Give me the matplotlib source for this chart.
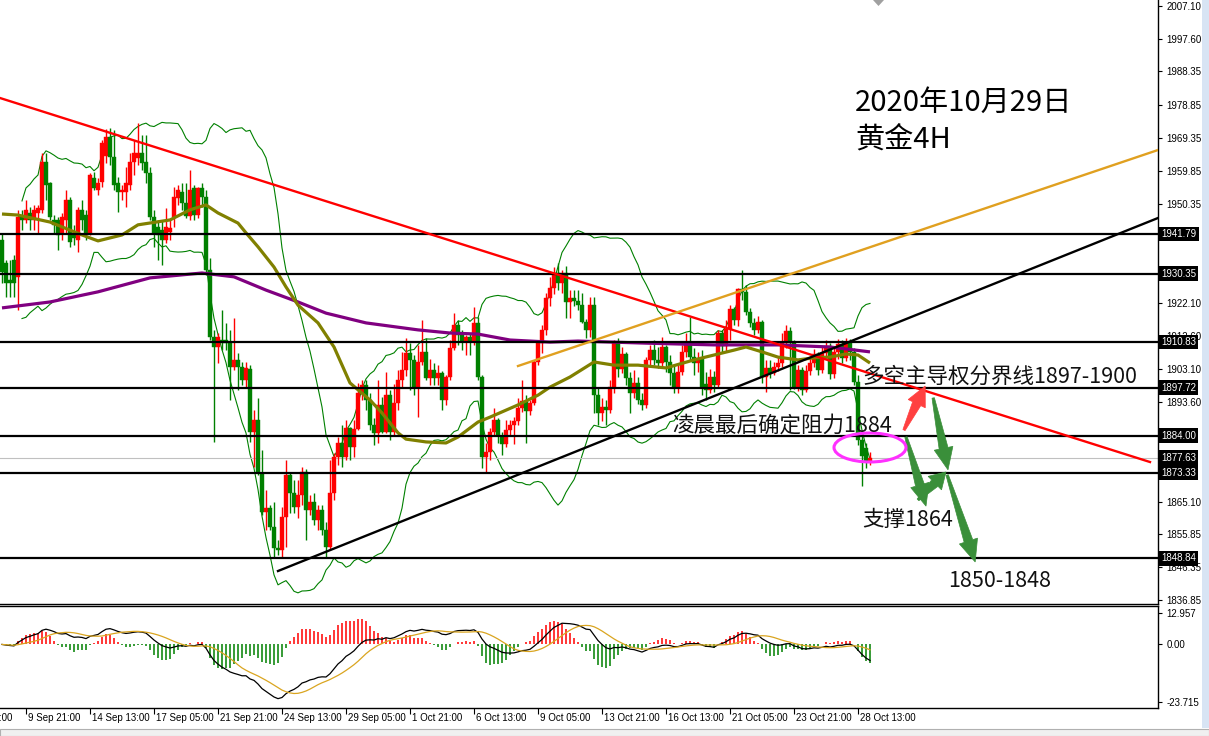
import numpy as np
import pandas as pd
import matplotlib
matplotlib.use('Agg')
import matplotlib.pyplot as plt
import matplotlib.transforms as mtrans
from matplotlib.patches import Ellipse, Polygon, Rectangle

# ---------------- data (XAUUSD 4H) ----------------
opens = [1940.1,1933.5,1928.6,1934.3,1929.5,1946.6,1945.8,1947.8,1945.8,1947.8,
         1948.7,1962.4,1956.4,1945.8,1945.8,1942.1,1945.8,1951.5,1942.1,1940.1,
         1948.7,1947.2,1942.1,1957.8,1954.4,1956.7,1964.1,1969.6,1963.9,1956.4,
         1953.8,1953.8,1955.8,1962.4,1963.6,1965.0,1962.4,1959.3,1946.6,1943.8,
         1942.9,1940.1,1942.4,1946.6,1952.1,1953.8,1950.7,1947.0,1955.0,1947.2,
         1955.0,1952.4,1931.5,1912.3,1909.4,1911.4,1911.4,1910.8,1903.7,1905.7,
         1903.7,1899.9,1903.1,1885.0,1888.5,1873.3,1862.1,1863.3,1857.8,1851.8,
         1851.2,1860.7,1872.7,1867.6,1863.6,1867.0,1873.6,1862.7,1865.0,1859.8,
         1862.7,1857.0,1852.1,1867.6,1877.9,1881.9,1877.9,1886.2,1880.8,1885.9,
         1896.2,1898.5,1894.2,1887.1,1884.8,1892.8,1885.0,1895.6,1885.0,1893.4,
         1899.9,1902.8,1907.7,1905.7,1897.7,1905.1,1908.0,1900.5,1902.8,1900.5,
         1901.9,1894.2,1900.8,1909.1,1915.7,1912.8,1910.8,1912.3,1910.8,1916.3,
         1900.8,1877.9,1879.3,1885.0,1888.5,1883.9,1881.6,1885.6,1887.1,1888.2,
         1891.9,1893.9,1891.0,1893.4,1905.1,1910.5,1914.3,1923.4,1926.3,1930.6,
         1927.7,1930.6,1922.3,1923.4,1922.6,1921.4,1916.6,1914.3,1921.4,1895.6,
         1890.5,1892.2,1891.3,1897.9,1910.5,1903.1,1907.4,1900.5,1896.2,1899.1,
         1894.2,1892.8,1905.7,1908.5,1905.7,1904.8,1909.4,1905.1,1901.9,1897.7,
         1902.2,1908.0,1910.8,1906.5,1904.8,1906.0,1898.9,1897.1,1900.8,1898.5,
         1913.4,1909.7,1914.6,1920.3,1917.1,1926.0,1925.1,1919.4,1916.3,1914.3,
         1916.6,1900.8,1903.4,1901.9,1903.7,1904.8,1910.5,1914.0,1910.5,1898.0,
         1902.8,1897.1,1902.5,1904.8,1907.4,1902.8,1907.7,1909.7,1901.7,1908.0,
         1910.3,1906.3,1910.5,1908.0,1899.4,1882.8,1880.5,1876.4]
highs = [1942.1,1934.3,1934.3,1935.8,1948.7,1948.7,1951.5,1949.5,1950.1,1950.1,
         1965.0,1965.0,1956.7,1947.2,1946.6,1947.8,1954.4,1952.4,1944.4,1949.5,
         1951.5,1948.7,1959.3,1959.5,1957.8,1968.7,1972.0,1972.1,1971.6,1958.1,
         1955.8,1961.0,1965.0,1968.7,1973.6,1970.1,1970.1,1961.0,1948.7,1945.8,
         1945.8,1949.2,1945.8,1955.2,1955.8,1956.4,1956.4,1960.1,1955.8,1955.2,
         1956.4,1954.4,1934.9,1914.3,1913.4,1920.0,1916.3,1914.3,1917.7,1907.7,
         1905.1,1905.1,1904.2,1891.3,1894.8,1879.9,1868.4,1864.1,1864.9,1854.1,
         1863.6,1877.0,1873.6,1871.3,1871.3,1875.0,1874.5,1867.0,1867.6,1864.1,
         1864.1,1859.3,1877.0,1879.0,1883.6,1887.1,1888.5,1886.5,1888.5,1899.1,
         1899.9,1899.9,1896.2,1889.0,1899.9,1895.1,1902.2,1897.1,1898.8,1902.8,
         1908.0,1912.0,1910.5,1907.1,1910.0,1917.1,1912.0,1906.0,1904.8,1904.2,
         1902.5,1901.5,1911.4,1919.1,1917.1,1914.3,1912.8,1913.4,1920.9,1918.0,
         1901.5,1881.9,1886.2,1891.9,1889.0,1885.0,1888.5,1888.5,1889.3,1894.8,
         1899.9,1895.6,1894.2,1905.7,1911.4,1915.7,1924.9,1929.4,1932.4,1933.5,
         1931.5,1932.7,1925.7,1925.7,1925.7,1924.9,1917.4,1923.7,1923.7,1897.9,
         1894.8,1894.2,1899.9,1911.4,1912.0,1909.4,1908.0,1902.2,1902.8,1900.8,
         1896.2,1906.5,1910.0,1911.4,1909.4,1912.3,1910.0,1907.1,1904.2,1904.2,
         1910.0,1913.4,1918.0,1909.1,1907.9,1908.5,1902.2,1903.1,1902.5,1914.3,
         1914.3,1917.1,1921.4,1920.9,1926.3,1931.5,1927.2,1920.6,1917.7,1918.3,
         1917.1,1905.7,1905.7,1905.1,1906.5,1913.4,1915.7,1915.1,1911.4,1904.2,
         1903.7,1904.2,1906.3,1908.8,1908.0,1909.4,1911.4,1910.5,1909.4,1911.7,
         1911.4,1912.0,1911.7,1909.1,1901.3,1884.8,1881.9,1879.3]
lows = [1927.7,1923.7,1923.7,1923.7,1920.0,1942.9,1944.9,1942.9,1942.9,1942.1,
        1947.8,1951.5,1945.8,1942.1,1937.2,1940.1,1942.1,1938.1,1938.6,1936.6,
        1942.9,1940.1,1941.5,1954.4,1953.0,1955.2,1962.0,1961.6,1954.4,1948.1,
        1951.5,1949.5,1954.4,1958.7,1961.6,1960.1,1956.4,1945.8,1938.1,1934.3,
        1932.9,1939.2,1940.1,1943.8,1950.1,1948.7,1946.3,1945.8,1945.8,1946.3,
        1949.5,1930.0,1911.4,1882.2,1904.8,1908.5,1908.5,1894.2,1902.8,1897.1,
        1898.5,1897.9,1882.2,1875.0,1872.7,1861.3,1857.0,1857.0,1848.9,1849.8,
        1849.2,1852.1,1861.8,1861.8,1860.4,1864.1,1854.1,1861.3,1858.4,1857.0,
        1855.5,1849.2,1851.2,1865.6,1875.6,1875.0,1877.0,1877.0,1877.9,1885.6,
        1894.2,1891.3,1885.6,1881.3,1881.9,1884.8,1884.8,1882.8,1884.2,1891.3,
        1897.7,1901.0,1897.1,1895.6,1889.3,1904.2,1899.9,1898.6,1898.6,1898.6,
        1891.3,1892.8,1899.9,1908.5,1910.0,1908.5,1907.1,1907.1,1909.9,1899.9,
        1874.7,1873.3,1877.0,1883.9,1881.9,1878.5,1880.8,1883.9,1881.6,1887.1,
        1890.8,1881.9,1889.9,1892.8,1904.2,1907.7,1912.8,1921.1,1924.6,1925.7,
        1924.9,1917.7,1917.7,1921.1,1920.0,1916.3,1912.0,1912.3,1890.5,1887.1,
        1888.2,1887.1,1890.5,1896.2,1900.8,1901.9,1898.5,1890.5,1894.8,1893.1,
        1891.3,1891.9,1904.2,1904.2,1903.4,1904.0,1902.2,1898.5,1896.2,1896.2,
        1901.3,1906.5,1905.7,1901.3,1902.2,1895.6,1894.2,1896.2,1896.5,1897.7,
        1907.9,1907.9,1911.4,1915.7,1915.4,1922.9,1918.6,1915.1,1912.8,1913.4,
        1899.1,1896.5,1900.5,1901.3,1902.5,1903.7,1909.1,1897.1,1897.4,1896.8,
        1895.6,1896.5,1901.3,1903.7,1901.3,1901.9,1906.5,1900.2,1900.5,1906.0,
        1904.8,1905.4,1905.7,1898.5,1881.3,1869.6,1874.7,1875.6]
closes = [1930.9,1927.7,1927.7,1927.7,1946.6,1945.8,1948.7,1945.8,1948.7,1949.2,
          1962.4,1955.8,1946.6,1944.4,1941.5,1946.6,1951.5,1939.5,1940.6,1948.7,
          1945.8,1942.1,1958.7,1955.0,1956.4,1967.9,1969.6,1963.9,1955.8,1953.8,
          1954.4,1956.4,1962.4,1965.0,1965.0,1962.1,1959.3,1946.6,1942.1,1941.5,
          1940.1,1943.8,1943.5,1952.4,1954.4,1950.7,1947.0,1954.4,1947.2,1955.0,
          1952.4,1931.5,1912.3,1909.4,1912.3,1910.5,1910.5,1903.7,1905.7,1903.7,
          1899.9,1903.4,1885.0,1888.5,1873.3,1862.1,1863.3,1857.8,1851.8,1851.2,
          1860.7,1872.7,1867.6,1863.6,1867.0,1873.6,1862.7,1865.0,1859.8,1862.7,
          1857.0,1852.1,1867.6,1877.9,1881.9,1877.9,1886.2,1880.8,1885.9,1896.2,
          1898.5,1894.2,1887.1,1884.8,1892.8,1885.0,1895.6,1885.0,1893.4,1899.9,
          1902.8,1907.7,1905.7,1897.7,1905.1,1908.0,1900.5,1902.8,1900.5,1901.9,
          1894.2,1900.8,1909.1,1915.7,1912.8,1910.8,1912.3,1910.8,1916.3,1900.8,
          1877.9,1879.3,1885.0,1888.5,1883.9,1881.6,1885.6,1887.1,1888.2,1891.9,
          1893.9,1891.0,1893.4,1905.1,1910.5,1914.3,1923.4,1926.3,1930.6,1927.7,
          1930.6,1922.3,1923.4,1922.6,1921.4,1916.6,1914.3,1921.4,1895.6,1890.5,
          1892.2,1891.3,1897.9,1910.5,1903.1,1907.4,1900.5,1896.2,1899.1,1894.2,
          1892.8,1905.7,1908.5,1905.7,1904.8,1909.4,1905.1,1901.9,1897.7,1902.2,
          1908.0,1910.8,1906.5,1904.8,1906.0,1897.7,1897.1,1900.8,1898.5,1913.4,
          1909.7,1914.6,1920.3,1917.1,1926.0,1925.1,1919.4,1916.3,1914.3,1916.6,
          1900.8,1903.4,1901.9,1903.7,1904.8,1910.5,1914.0,1910.5,1898.0,1902.8,
          1897.1,1902.5,1904.8,1907.4,1902.8,1907.7,1909.7,1901.7,1908.0,1910.3,
          1906.3,1910.5,1908.0,1899.4,1882.8,1878.1,1876.4,1877.63]

# moving averages (bar index, price)
olive_idx = [0,4,12,20,24,30,34,42,47,51,54,59,61,64,68,71,74,79,83,87,92,95,99,101,
             106,111,114,119,122,125,129,134,137,142,148,153,159,166,173,178,183,186,
             190,194,199,203,207,211,214,217]
olive_val = [1947.5,1947.2,1945.2,1941.5,1939.8,1941.5,1944.4,1945.8,1948.7,1950.1,
             1947.8,1944.9,1942.1,1938.1,1932.3,1926.6,1921.4,1916.3,1909.4,1899.1,
             1894.2,1890.5,1884.8,1883.0,1882.2,1881.9,1883.6,1887.9,1889.3,1890.8,
             1892.8,1895.6,1897.9,1900.8,1905.1,1904.2,1904.2,1903.4,1905.7,1907.1,
             1908.5,1909.4,1908.0,1906.5,1905.7,1906.3,1906.5,1907.4,1907.1,1904.8]
purple_idx = [0,12,24,37,50,58,66,74,81,91,104,112,119,127,137,144,161,178,194,207,217]
purple_val = [1920.6,1922.3,1925.2,1929.2,1930.6,1929.5,1925.7,1922.3,1919.1,1916.3,
              1914.3,1913.4,1913.1,1911.4,1910.8,1911.1,1910.5,1910.0,1910.0,1909.4,1908.0]

levels = [1941.79, 1930.35, 1910.83, 1897.72, 1884.00, 1873.33, 1848.84]
last_price = 1877.63
price_ticks = [2007.10, 1997.60, 1988.35, 1978.85, 1969.35, 1959.85, 1950.35,
               1922.10, 1912.60, 1903.10, 1893.60, 1865.10,
               1855.85, 1846.35, 1836.85]
macd_ticks = [12.957, 0.0, -23.715]
macd_tick_labels = ['12.957', '0.00', '-23.715']
time_idx = [-11, 6, 22, 38, 54, 70, 86, 102, 118, 134, 150, 166, 182, 198, 214]
time_labels = ['7 Sep 09:00', '9 Sep 21:00', '14 Sep 13:00', '17 Sep 05:00', '21 Sep 21:00',
               '24 Sep 13:00', '29 Sep 05:00', '1 Oct 21:00', '6 Oct 13:00', '9 Oct 05:00',
               '13 Oct 21:00', '16 Oct 13:00', '21 Oct 05:00', '23 Oct 21:00', '28 Oct 13:00']

# trend lines (bar index, price)
red_line = [(-0.5, 1980.74), (287, 1876.44)]
orange_line = [(129, 1903.95), (289, 1965.84)]
black_line = [(69, 1845.21), (289, 1946.36)]

# annotation texts (bar index, price)
title_texts = [('2020年10月29日', 213.3, 1979.3), ('黄金4H', 213.3, 1968.7)]
note_texts = [('多空主导权分界线1897-1900', 215.0, 1900.8),
              ('凌晨最后确定阻力1884', 167.5, 1886.8),
              ('支撑1864', 215.0, 1859.8),
              ('1850-1848', 236.5, 1842.4)]
red_arrows = [((225.5, 1885.6), (230.8, 1898.2))]
green_arrows = [((226.0, 1883.6), (231.0, 1863.8)),
                ((232.8, 1894.8), (236.5, 1874.2)),
                ((229.0, 1865.6), (236.0, 1873.6)),
                ((236.3, 1872.7), (243.3, 1847.8))]
ellipse_center = (217.0, 1880.6)

# ---------------- figure ----------------
plt.rcParams['font.family'] = ['Liberation Sans', 'DejaVu Sans']
W, H = 1209, 736
fig = plt.figure(figsize=(W / 100, H / 100), dpi=100)
fig.patch.set_facecolor('white')

ax = fig.add_axes([0, 1 - 604 / H, 1158 / W, 604 / H])
ax2 = fig.add_axes([0, 1 - 708 / H, 1158 / W, 102 / H])

XMIN, XMAX = -0.5, 289
ax.set_xlim(XMIN, XMAX)
ax.set_ylim(1835.76, 2008.82)
ax2.set_xlim(XMIN, XMAX)
ax2.set_ylim(-26.19, 15.84)

idx = np.arange(len(closes))
o = np.array(opens); h = np.array(highs); l = np.array(lows); c = np.array(closes)
col = np.where(c >= o, '#FF0000', '#008000')

# bollinger bands from closes
s = pd.Series(c)
mid = s.rolling(20, min_periods=6).mean()
sd = s.rolling(20, min_periods=6).std(ddof=0)
ax.plot(idx, mid + 2 * sd, color='#008000', lw=0.8, zorder=2)
ax.plot(idx, mid - 2 * sd, color='#008000', lw=0.8, zorder=2)

# moving averages
ax.plot(purple_idx, purple_val, color='#800080', lw=2.3, zorder=5, solid_capstyle='butt')
ax.plot(olive_idx, olive_val, color='#808000', lw=2.3, zorder=5, solid_capstyle='butt')

# candles
ax.vlines(idx, l, h, colors=col, lw=1.0, zorder=3)
ax.bar(idx, np.maximum(np.abs(c - o), 0.35), bottom=np.minimum(o, c), width=0.78,
       color=col, edgecolor=col, lw=0.3, zorder=4)

# levels
for lv in levels:
    ax.axhline(lv, color='black', lw=1.6, zorder=6)
ax.axhline(last_price, color='#C0C0C0', lw=0.8, zorder=2)

for pts, cc in [(red_line, '#FF0000'), (orange_line, '#E0A020'), (black_line, 'black')]:
    ax.plot([pts[0][0], pts[1][0]], [pts[0][1], pts[1][1]], color=cc, lw=1.7, zorder=6)

# right price axis
ax.yaxis.tick_right()
ax.set_yticks(price_ticks)
ax.set_yticklabels(['%.2f' % v for v in price_ticks])
ax.tick_params(axis='y', direction='out', length=3, width=0.8, pad=3, labelsize=7)
ax.set_xticks([])
for sp in ['top', 'left']:
    ax.spines[sp].set_visible(False)
for sp in ['right', 'bottom']:
    ax.spines[sp].set_linewidth(1.0)

ytr = ax.get_yaxis_transform()
for lv in levels + [last_price]:
    ax.text(1.0 + 3 / 1158, lv, '%.2f' % lv, transform=ytr, ha='left', va='center',
            fontsize=7, color='white', zorder=20, clip_on=False,
            bbox=dict(boxstyle='square,pad=0.25', fc='black', ec='none'))

# texts
cjk = ['Noto Sans CJK SC', 'DejaVu Sans']
for t, x, y in title_texts:
    ax.text(x, y, t, fontsize=21, family=cjk, ha='left', va='center', color='black', zorder=12)
for t, x, y in note_texts:
    ax.text(x, y, t, fontsize=15.5, family=cjk, ha='left', va='center', color='#111111',
            zorder=12, clip_on=False)

# arrows (shape built in pixel space)
fig.canvas.draw()
def draw_arrow(p0, p1, color):
    P0 = ax.transData.transform(p0)
    P1 = ax.transData.transform(p1)
    d = P1 - P0
    L = np.hypot(*d)
    u = d / L
    n = np.array([-u[1], u[0]])
    hl = min(22.0, L * 0.4)
    neck = P1 - u * hl
    pts = [P0 + n * 1.2, neck + n * 4.5, neck + n * 9.5, P1, neck - n * 9.5, neck - n * 4.5, P0 - n * 1.2]
    ax.add_patch(Polygon(pts, closed=True, transform=mtrans.IdentityTransform(),
                         fc=color, ec=color, lw=0.5, zorder=9, clip_on=False))

for a, b in red_arrows:
    draw_arrow(a, b, '#FF4040')
for a, b in green_arrows:
    draw_arrow(a, b, '#3A8F3A')

ax.add_patch(Ellipse(ellipse_center, width=18, height=8.3, fill=False, ec='#FF30FF', lw=2.2, zorder=10))

# shift marker
ax.add_patch(Polygon([(873 / 1158, 1.0), (884 / 1158, 1.0), (878.5 / 1158, 1 - 6 / 604)],
                     closed=True, transform=ax.transAxes, fc='#A0A0A0', ec='none', zorder=15, clip_on=False))

# ---------------- MACD panel ----------------
ema12 = s.ewm(span=12, adjust=False).mean()
ema26 = s.ewm(span=26, adjust=False).mean()
macd = ema12 - ema26
sig = macd.rolling(9, min_periods=1).mean()
hist = (macd - sig) * 1.7
hcol = np.where(hist >= 0, '#FF0000', '#008000')
ax2.vlines(idx, 0, hist, colors=hcol, lw=1.1, zorder=2)
ax2.plot(idx, macd, color='black', lw=0.9, zorder=3)
ax2.plot(idx, sig, color='#DAA520', lw=0.9, zorder=3)

ax2.yaxis.tick_right()
ax2.set_yticks(macd_ticks)
ax2.set_yticklabels(macd_tick_labels)
ax2.tick_params(axis='y', direction='out', length=3, width=0.8, pad=3, labelsize=7)
ax2.spines['left'].set_visible(False)
for sp in ['right', 'bottom', 'top']:
    ax2.spines[sp].set_linewidth(1.0)

vis = [i for i in time_idx if i >= XMIN]
ax2.set_xticks(vis)
ax2.set_xticklabels([''] * len(vis))
ax2.tick_params(axis='x', direction='out', length=4, width=0.8)
xtr = ax2.get_xaxis_transform()
for i, t in zip(time_idx, time_labels):
    ax2.text(i + 0.5, -0.1, t, transform=xtr, ha='left', va='center', fontsize=7,
             clip_on=False)

# frame decorations
fig.patches.append(Rectangle((1202 / W, 8 / H), 7 / W, 1 - 8 / H, transform=fig.transFigure,
                             fc='#D8E4F4', ec='none', zorder=0))
fig.patches.append(Rectangle((0, 0), 1, 7 / H, transform=fig.transFigure,
                             fc='#F0F0F0', ec='#B0B0B0', lw=0.8, zorder=0))

fig.savefig('out.png', dpi=100)
